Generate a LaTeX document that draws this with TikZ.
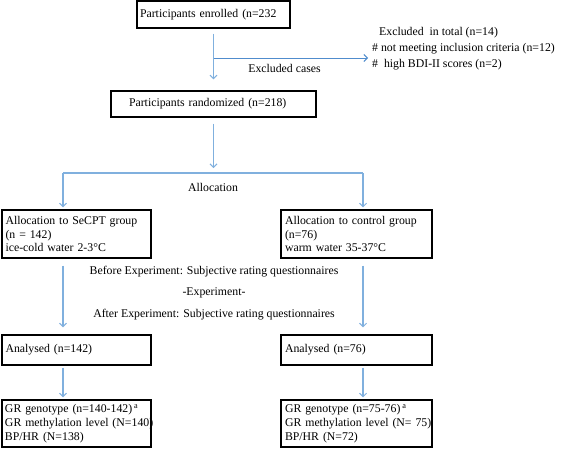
\documentclass[tikz,border=0pt]{standalone}
\usepackage{fontspec}
\setmainfont{Liberation Serif}
\usetikzlibrary{arrows.meta}
\definecolor{lightarr}{RGB}{128,176,222}
\definecolor{darkarr}{RGB}{80,140,205}
\begin{document}
\begin{tikzpicture}[x=1pt,y=-1pt,
  every node/.style={font=\fontsize{11.8}{13.8}\selectfont, inner sep=0pt},
  boxnode/.style={draw=black, line width=1.2pt, inner ysep=0pt, align=left},
  tip/.style={-{Straight Barb[length=3.5pt,width=7pt,line width=1pt]}},
  thickarr/.style={tip, draw=lightarr, line width=1.8pt},
  thinarr/.style={tip, draw=darkarr, line width=1pt},
  droparr/.style={tip, draw=lightarr, line width=1.3pt},
  thinline/.style={draw=lightarr, line width=1.3pt},
  lbl/.style={anchor=center}
]
\useasboundingbox (0,0) rectangle (564,448);

% boxes
\node[boxnode, inner xsep=3pt, text width=147pt, minimum height=27pt] (enr) at (213.5,14.5) {\mbox{Participants enrolled (n=232}};
\node[boxnode, inner xsep=18pt, text width=169pt, minimum height=26pt] (rand) at (213.5,104) {\mbox{Participants randomized (n=218)}};
\node[boxnode, inner xsep=3.5pt, text width=142pt, minimum height=48pt] (secpt) at (76.5,234) {\mbox{Allocation to SeCPT group}\\\mbox{(n = 142)}\\\mbox{ice-cold water 2-3°C}};
\node[boxnode, inner xsep=4pt, text width=143pt, minimum height=48pt] (ctrl) at (356.5,234) {\mbox{Allocation to control group}\\\mbox{(n=76)}\\\mbox{warm water 35-37°C}};
\node[boxnode, inner xsep=3.5pt, text width=142pt, minimum height=30pt] (anL) at (76.5,350) {\mbox{Analysed (n=142)}};
\node[boxnode, inner xsep=4pt, text width=143pt, minimum height=30pt] (anR) at (356.5,350) {\mbox{Analysed (n=76)}};
\node[boxnode, inner xsep=3pt, text width=143pt, minimum height=47pt] (resL) at (76.5,423.5) {\mbox{GR genotype (n=140-142)\,\textsuperscript{a}}\\\mbox{GR methylation level (N=140)}\\\mbox{BP/HR (N=138)}};
\node[boxnode, inner xsep=4pt, text width=143pt, minimum height=47pt] (resR) at (356.5,423.5) {\mbox{GR genotype (n=75-76)\,\textsuperscript{a}}\\\mbox{GR methylation level (N= 75)}\\\mbox{BP/HR (N=72)}};

% exclusion texts
\node[anchor=west] (exc1) at (379,33) {Excluded\ \ in total (n=14)};
\node[anchor=west] (exc2) at (372,49) {\# not meeting inclusion criteria (n=12)};
\node[anchor=west] (exc3) at (372,65) {\#\ \ high BDI-II scores (n=2)};
\node[lbl] (exccases) at (284.5,68) {Excluded cases};

% labels
\node[lbl] (alloc) at (213,187) {Allocation};
\node[lbl] (before) at (214,272) {Before Experiment: Subjective rating questionnaires};
\node[lbl] (exper) at (214,293) {-Experiment-};
\node[lbl] (after) at (214,315) {After Experiment: Subjective rating questionnaires};

% coordinates
\coordinate (bst) at (213.5,58);
\coordinate (bend) at (368,58);
\coordinate (split) at (213.5,173);
\coordinate (aL) at (63,173);
\coordinate (aR) at (363,173);

% connectors
\draw[thickarr, shorten <=5pt, shorten >=11pt] (enr.south) -- (rand.north);
\draw[thinarr] (bst) -- (bend);
\draw[thickarr, shorten <=6pt, shorten >=5pt] (rand.south) -- (split);
\draw[thinline] (aL) -- (aR);
\draw[droparr, shorten >=2pt] (aL) -- (aL |- secpt.north);
\draw[droparr, shorten >=2pt] (aR) -- (aR |- ctrl.north);
\draw[thickarr, shorten <=7pt, shorten >=7pt] (aL |- secpt.south) -- (aL |- anL.north);
\draw[thickarr, shorten <=7pt, shorten >=7pt] (aR |- ctrl.south) -- (aR |- anR.north);
\draw[thickarr, shorten <=2pt, shorten >=2pt] (aL |- anL.south) -- (aL |- resL.north);
\draw[thickarr, shorten <=2pt, shorten >=2pt] (aR |- anR.south) -- (aR |- resR.north);
\end{tikzpicture}
\end{document}
